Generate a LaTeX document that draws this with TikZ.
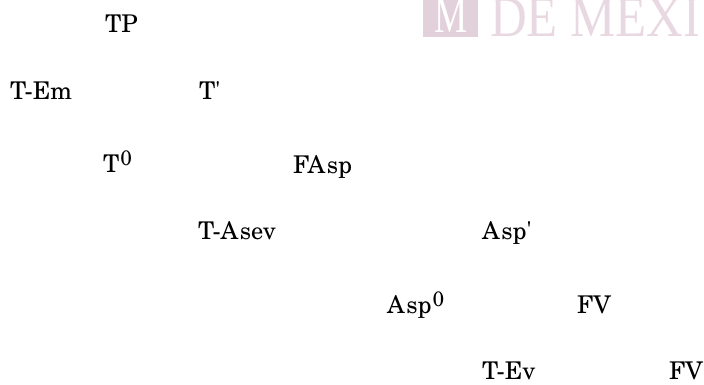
\documentclass[tikz,border=0pt]{standalone}
\usepackage{fontspec}
\setmainfont{TeX Gyre Schola}
\newfontfamily\wmfont{Liberation Serif}
\definecolor{wmpink}{RGB}{232,216,225}
\definecolor{wmbox}{RGB}{226,208,218}
% superscript zero set nearly at full size
\newcommand{\supzero}{\kern1bp\raisebox{7bp}{\fontsize{21}{21}\selectfont 0}}
\begin{document}
\begin{tikzpicture}[x=1bp,y=-1bp,
  lbl/.style={anchor=base west,inner sep=0pt,font=\fontsize{24.5}{28}\selectfont}]
\useasboundingbox (0,0) rectangle (704,384);
% faded emblem in the top right corner
\fill[wmbox] (423,-2) rectangle (478,37);
\node[anchor=base,inner sep=0pt,text=white,font=\wmfont\fontsize{52}{52}\selectfont,xscale=0.72] (wmM) at (451,32) {M};
\node[anchor=base west,inner sep=0pt,text=wmpink,font=\wmfont\fontsize{58}{58}\selectfont,xscale=0.88] (wmtext) at (490,36) {DE MEXI};
% labels
\node[lbl] (tp)    at (105,32)  {TP};
\node[lbl] (tem)   at (10,99)   {T-Em};
\node[lbl] (tbar)  at (199,99)  {T\textquotesingle};
\node[lbl] (tzero) at (103,172) {T\supzero};
\node[lbl] (fasp)  at (293,173) {FA\kern1.5bp sp};
\node[lbl] (tasev) at (198,239) {T-A\kern1.5bp sev};
\node[lbl] (aspbar) at (482,239) {A\kern1.5bp sp\textquotesingle};
\node[lbl] (aspzero) at (387,313) {A\kern1.5bp sp\supzero};
\node[lbl] (fva)   at (577,313) {FV};
\node[lbl] (tev)   at (482,379) {T-Ev};
\node[lbl] (fvb)   at (669,379) {FV};
\end{tikzpicture}
\end{document}
